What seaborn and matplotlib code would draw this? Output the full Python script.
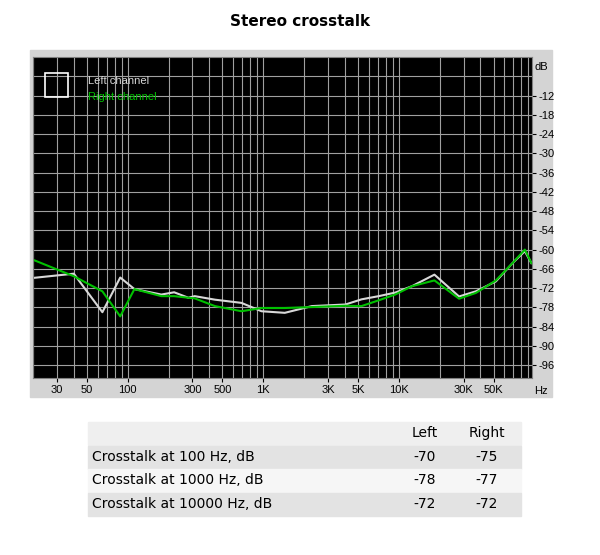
import numpy as np
import pandas as pd
import matplotlib.pyplot as plt
import seaborn as sns
from matplotlib.patches import Rectangle

# readings
freq = [19.3, 40, 65, 88, 112, 177, 220, 280, 312, 440, 690, 970, 1440, 2280,
        4040, 5300, 7100, 9400, 12500, 18300, 27800, 37000, 52000, 69000, 85000, 95000]
left_db = [-68.9, -67.5, -79.5, -68.7, -72.3, -74.0, -73.3, -75.0, -74.5, -75.6, -76.6,
           -79.2, -79.7, -77.6, -77.1, -75.5, -74.5, -73.4, -71.4, -67.8, -74.6, -73.0,
           -69.9, -64.2, -60.5, -64.2]
right_db = [-62.9, -68.3, -73.0, -80.8, -72.3, -74.5, -74.5, -75.0, -75.2, -77.6, -79.2,
            -78.2, -78.2, -77.9, -77.5, -77.6, -75.8, -74.0, -71.4, -69.6, -75.3, -73.5,
            -69.6, -64.2, -60.0, -64.2]
y_ticks = [-12, -18, -24, -30, -36, -42, -48, -54, -60, -66, -72, -78, -84, -90, -96]
x_ticks = [30, 50, 100, 300, 500, 1000, 3000, 5000, 10000, 30000, 50000]
x_labels = ['30', '50', '100', '300', '500', '1K', '3K', '5K', '10K', '30K', '50K']
rows = ['Crosstalk at 100 Hz, dB', 'Crosstalk at 1000 Hz, dB', 'Crosstalk at 10000 Hz, dB']
left_vals = [-70, -78, -72]
right_vals = [-75, -77, -72]

df = pd.concat([
    pd.DataFrame({'f': freq, 'db': left_db, 'ch': 'Left channel'}),
    pd.DataFrame({'f': freq, 'db': right_db, 'ch': 'Right channel'}),
])

W, H = 600, 555
fig = plt.figure(figsize=(6, 5.55), dpi=100)

def fx(x): return x / W
def fy(y): return 1 - y / H

# gray panel behind the plot
fig.patches.append(Rectangle((fx(30), fy(397)), fx(522), (397 - 50) / H,
                             transform=fig.transFigure, color='#d4d4d4', zorder=-10))

ax = fig.add_axes([fx(33), fy(378), fx(499), (378 - 57) / H])
ax.set_zorder(5)
ax.set_facecolor('black')
sns.lineplot(data=df, x='f', y='db', hue='ch', palette=['#d8d8d8', '#00c000'],
             linewidth=1.5, ax=ax, legend=False, sort=False)
ax.set_xscale('log')
ax.set_xlim(20, 96000)
ax.set_ylim(-100, 0)

# grid
for d in range(1, 5):
    for m in range(1, 10):
        v = m * 10 ** d
        if 20 <= v <= 96000:
            ax.axvline(v, color='#a0a0a0', lw=0.8, zorder=0)
for v in range(-6, -100, -6):
    ax.axhline(v, color='#a0a0a0', lw=0.8, zorder=0)

ax.yaxis.tick_right()
ax.set_yticks(y_ticks)
ax.set_yticklabels([str(t) for t in y_ticks], fontsize=8, family='Liberation Sans')
ax.set_xticks(x_ticks)
ax.set_xticklabels(x_labels, fontsize=8, family='Liberation Sans')
ax.xaxis.set_minor_locator(plt.NullLocator())
ax.tick_params(length=3, pad=2)
ax.set_xlabel('')
ax.set_ylabel('')
for s in ax.spines.values():
    s.set_color('#808080')
ax.text(1.005, 0.97, 'dB', transform=ax.transAxes, fontsize=8, family='Liberation Sans', va='center')
ax.text(1.005, -0.04, 'Hz', transform=ax.transAxes, fontsize=8, family='Liberation Sans', va='center')

# legend
ax.add_patch(Rectangle((0.025, 0.875), 0.045, 0.075, transform=ax.transAxes,
                       fill=False, ec='white', lw=1.2))
ax.text(0.11, 0.925, 'Left channel', transform=ax.transAxes, color='#d8d8d8',
        fontsize=8, family='Liberation Sans', va='center')
ax.text(0.11, 0.875, 'Right channel', transform=ax.transAxes, color='#00c000',
        fontsize=8, family='Liberation Sans', va='center')

fig.text(0.5, fy(22), 'Stereo crosstalk', ha='center', va='center', fontsize=11,
         fontweight='bold', family='DejaVu Sans')

# table
row_y = [433, 457, 480, 504]
bgs = ['#efefef', '#e3e3e3', '#f6f6f6', '#e3e3e3']
for y, c in zip(row_y, bgs):
    fig.patches.append(Rectangle((fx(88), fy(y + 11.5)), fx(433), 23 / H,
                                 transform=fig.transFigure, color=c, zorder=-10))
fig.text(fx(425), fy(row_y[0]), 'Left', ha='center', va='center', fontsize=10)
fig.text(fx(487), fy(row_y[0]), 'Right', ha='center', va='center', fontsize=10)
for y, r, l, rv in zip(row_y[1:], rows, left_vals, right_vals):
    fig.text(fx(92), fy(y), r, va='center', fontsize=10)
    fig.text(fx(425), fy(y), str(l), ha='center', va='center', fontsize=10)
    fig.text(fx(487), fy(y), str(rv), ha='center', va='center', fontsize=10)

fig.savefig('out.png', dpi=100)
